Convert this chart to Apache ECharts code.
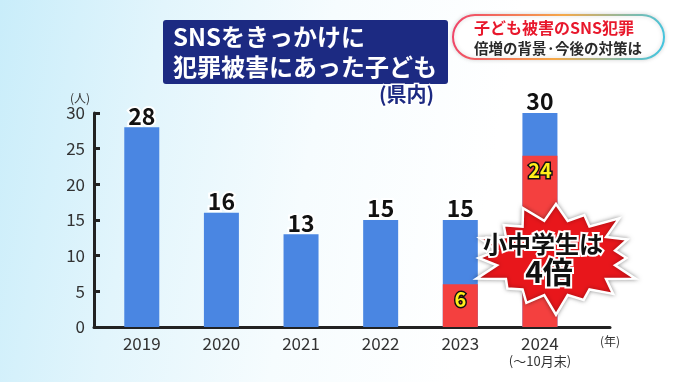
<!DOCTYPE html>
<html><head><meta charset="utf-8">
<script src="https://cdn.jsdelivr.net/npm/echarts@6/dist/echarts.min.js"></script>
<style>
html,body{margin:0;padding:0;background:#fff;}
#c{width:680px;height:382px;background:linear-gradient(100deg,#c9edfa 0%,#e2f5fc 22%,#f6fcfe 45%,#ffffff 70%);}
</style>
</head><body><div id="c"></div>
<script>
const years = [2019, 2020, 2021, 2022, 2023, 2024];
const totals = [28, 16, 13, 15, 15, 30];              // all victims (blue bar, full height)
const elementaryJunior = [null, null, null, null, 6, 24]; // 小中学生 (red, bottom part)
const yTicks = [0, 5, 10, 15, 20, 25, 30];

const FONT = '"Noto Sans CJK JP","Noto Sans",sans-serif';
const chart = echarts.init(document.getElementById('c'), null, {renderer: 'canvas'});

// starburst annotation shape (decorative)
const burstSpikes = [1.0, 0.86, 1.04, 0.9, 0.82, 1.0, 0.94, 0.84, 1.05, 0.9, 0.8, 1.0, 0.9, 0.96, 0.86, 1.0];
function burstPoints(cx, cy, rx, ry) {
  const n = burstSpikes.length, pts = [];
  for (let i = 0; i < 2 * n; i++) {
    const a = i * Math.PI / n - Math.PI / 2;
    const r = i % 2 === 0 ? burstSpikes[i / 2] : 0.7;
    pts.push([cx + rx * r * Math.cos(a), cy + ry * r * Math.sin(a)]);
  }
  return pts;
}

const option = {
  backgroundColor: 'transparent',
  animation: false,
  textStyle: {fontFamily: FONT},
  title: [
    {
      text: 'SNSをきっかけに\n犯罪被害にあった子ども',
      left: 163, top: 20,
      backgroundColor: '#1c2a82', borderRadius: 3,
      padding: [2, 11, 2, 10],
      textStyle: {color: '#fff', fontSize: 24, fontWeight: 'bold', lineHeight: 30, fontFamily: FONT}
    },
    {
      text: '(県内)',
      left: 379, top: 84,
      padding: 0,
      textStyle: {color: '#1c2a82', fontSize: 20, fontWeight: 'bold', fontFamily: FONT,
        textBorderColor: '#fff', textBorderWidth: 3}
    },
    {
      text: '{a|子ども被害のSNS犯罪}\n{b|倍増の背景·今後の対策は}',
      left: 453, top: 13,
      backgroundColor: '#fff',
      borderColor: {type: 'linear', x: 0, y: 0, x2: 1, y2: 1,
        colorStops: [{offset: 0, color: '#f0406a'}, {offset: 0.5, color: '#f5a848'}, {offset: 1, color: '#3cc6e6'}]},
      borderWidth: 2, borderRadius: 24,
      padding: [5, 22, 4, 21],
      shadowColor: 'rgba(0,0,0,0.15)', shadowBlur: 4,
      textStyle: {
        rich: {
          a: {color: '#e8182c', fontSize: 16, fontWeight: 'bold', lineHeight: 20, fontFamily: FONT},
          b: {color: '#2a2a2a', fontSize: 14.5, fontWeight: 'bold', lineHeight: 20, fontFamily: FONT}
        }
      }
    }
  ],
  grid: {left: 94, right: 70, top: 113, bottom: 55, containLabel: false},
  xAxis: {
    type: 'value', min: 2018.4, max: 2024.88,
    splitLine: {show: false},
    axisLine: {show: true, lineStyle: {color: '#222', width: 3}},
    axisTick: {show: false},
    axisLabel: {
      customValues: years,
      margin: 8,
      color: '#333', fontSize: 17, fontFamily: FONT,
      formatter: function (v) {
        return v === 2024 ? '{a|2024}\n{b|(～10月末)}' : '{a|' + v + '}';
      },
      rich: {
        a: {fontSize: 17, color: '#333', lineHeight: 18, fontFamily: FONT},
        b: {fontSize: 13, color: '#333', lineHeight: 16, fontFamily: FONT}
      }
    },
    name: '(年)',
    nameLocation: 'end', nameGap: -10,
    nameTextStyle: {color: '#333', fontSize: 12, verticalAlign: 'top', padding: [8, 0, 0, 0], fontFamily: FONT}
  },
  yAxis: {
    type: 'value', min: 0, max: 30, interval: 5,
    splitLine: {show: false},
    axisLine: {show: true, lineStyle: {color: '#222', width: 3}},
    axisTick: {show: true, inside: true, length: 6, lineStyle: {color: '#222', width: 3}},
    axisLabel: {color: '#333', fontSize: 17, margin: 9, fontFamily: FONT},
    name: '(人)',
    nameLocation: 'end', nameGap: 6,
    nameTextStyle: {color: '#333', fontSize: 12, align: 'right', padding: [0, 4, 0, 0], fontFamily: FONT}
  },
  series: [
    {
      type: 'bar', barWidth: 35,
      data: years.map((y, i) => [y, totals[i]]),
      itemStyle: {color: '#4a86e2'},
      label: {
        show: true, position: 'top', distance: 0,
        color: '#111', fontSize: 23, fontWeight: 'bold', fontFamily: FONT,
        formatter: p => String(p.value[1]),
        textBorderColor: '#fff', textBorderWidth: 4
      }
    },
    {
      type: 'bar', barWidth: 35, barGap: '-100%', z: 3,
      data: years.map((y, i) => [y, elementaryJunior[i]]),
      itemStyle: {color: '#f4403f'},
      label: {
        show: true, position: 'insideTop', distance: 5,
        formatter: p => (p.value[1] ? String(p.value[1]) : ''),
        color: '#ffef1a', fontSize: 20, fontWeight: 'bold', fontFamily: FONT,
        textBorderColor: '#111', textBorderWidth: 3
      }
    }
  ],
  graphic: [
    {
      type: 'polygon', z: 100,
      shape: {points: burstPoints(556, 258, 86, 54)},
      style: {fill: '#e8161b', stroke: '#fff', lineWidth: 2.5, shadowBlur: 4, shadowColor: 'rgba(0,0,0,0.35)'}
    },
    {
      type: 'text', z: 101, x: 543, y: 244,
      style: {text: '小中学生は', font: 'bold 24px ' + FONT, fill: '#111', stroke: '#fff', lineWidth: 4,
        align: 'center', verticalAlign: 'middle'}
    },
    {
      type: 'text', z: 101, x: 549, y: 272,
      style: {text: '4倍', font: 'bold 30px ' + FONT, fill: '#111', stroke: '#fff', lineWidth: 4,
        align: 'center', verticalAlign: 'middle'}
    }
  ]
};
chart.setOption(option);
</script>
</body></html>
